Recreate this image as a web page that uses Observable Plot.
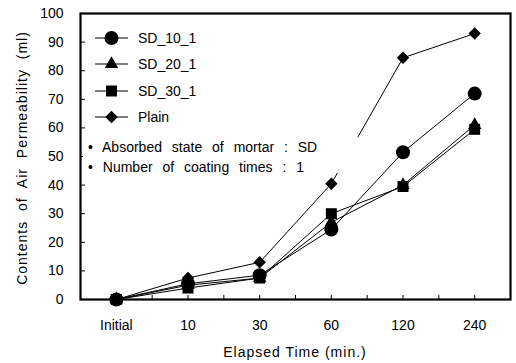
<!DOCTYPE html>
<html><head><meta charset="utf-8">
<script src="https://cdn.jsdelivr.net/npm/d3@7"></script>
<script src="https://cdn.jsdelivr.net/npm/@observablehq/plot@0.6"></script>
<style>
html,body{margin:0;padding:0;background:#fff;}
body{font-family:"Liberation Sans",Arial,sans-serif;color:#000;}
#wrap{position:relative;width:516px;height:363px;overflow:hidden;}
#wrap svg{display:block;}
.ov{position:absolute;white-space:nowrap;font-size:14px;line-height:1;}
#legend{left:95px;top:25px;}
#legend .row{height:26.3px;display:flex;align-items:center;}
#legend .row span{margin-left:10px;}
#notes{left:83px;top:137px;width:282px;height:36px;background:#fff;}
#notes div{height:20px;line-height:20px;padding-left:5px;word-spacing:6px;}
#xlab{left:0;width:516px;top:345px;text-align:center;padding-left:74px;box-sizing:border-box;letter-spacing:1px;}
#ylab{left:22px;top:158px;transform:translate(-50%,-50%) rotate(-90deg);letter-spacing:1px;word-spacing:5px;}
</style></head><body>
<div id="wrap"></div>
<script>
const categories = ["Initial", "10", "30", "60", "120", "240"];
const seriesNames = ["SD_10_1", "SD_20_1", "SD_30_1", "Plain"];
const seriesSymbols = ["circle", "triangle", "square", "diamond2"];
const seriesRadius = [7, 5, 6.2, 5.6];
const sd10 = [0, 5.5, 8.5, 24.5, 51.5, 72];
const sd20 = [0, 5, 7.5, 27, 40, 61];
const sd30 = [0, 4, 7.5, 30, 39.5, 59.5];
const plain = [0, 7.5, 13, 40.5, 84.5, 93];
const yTicks = [0, 10, 20, 30, 40, 50, 60, 70, 80, 90, 100];
const xLabel = "Elapsed Time (min.)";
const yLabel = "Contents of Air Permeability (ml)";
const notes = ["• Absorbed state of mortar : SD", "• Number of coating times : 1"];

const seriesValues = [sd10, sd20, sd30, plain];
const rows = [];
seriesValues.forEach((vals, s) => vals.forEach((v, i) => rows.push({series: seriesNames[s], i, v})));
const idx = categories.map((c, i) => i);
const between = categories.slice(1).map((c, i) => i + 0.5);

const marks = [
  Plot.axisY({ticks: yTicks, tickSize: -5, tickPadding: 22, fontSize: 14, label: null}),
  Plot.axisX({ticks: idx, tickFormat: i => categories[i], tickSize: -4, tickPadding: 25, fontSize: 14, label: null}),
  Plot.axisX({ticks: between, tickFormat: () => "", tickSize: -4, label: null}),
  Plot.line(rows, {x: "i", y: "v", z: "series", stroke: "#000", strokeWidth: 1})
];
seriesNames.forEach((name, s) => {
  marks.push(Plot.dot(rows.filter(d => d.series === name), {
    x: "i", y: "v", symbol: seriesSymbols[s], r: seriesRadius[s], fill: "#000", stroke: "none"
  }));
});
marks.push(Plot.frame({stroke: "#000", strokeWidth: 2.2}));

const chart = Plot.plot({
  width: 516, height: 363,
  marginLeft: 80, marginRight: 6, marginTop: 13, marginBottom: 64,
  style: {fontFamily: '"Liberation Sans", Arial, sans-serif', fontSize: "14px", color: "#000", background: "#fff"},
  x: {domain: [-0.5, categories.length - 0.5], axis: null},
  y: {domain: [0, 100], axis: null},
  marks
});
const wrap = document.getElementById("wrap");
wrap.appendChild(chart);

// legend
const legend = document.createElement("div");
legend.id = "legend"; legend.className = "ov";
const typeMap = {circle: d3.symbolCircle, triangle: d3.symbolTriangle, square: d3.symbolSquare, diamond2: d3.symbolDiamond2};
seriesNames.forEach((name, s) => {
  const row = document.createElement("div");
  row.className = "row";
  const svg = d3.create("svg").attr("width", 33).attr("height", 16);
  svg.append("line").attr("x1", 0).attr("x2", 33).attr("y1", 8).attr("y2", 8).attr("stroke", "#000");
  svg.append("path").attr("transform", "translate(16.5,8)")
    .attr("d", d3.symbol().type(typeMap[seriesSymbols[s]]).size(Math.PI * seriesRadius[s] ** 2)())
    .attr("fill", "#000");
  row.appendChild(svg.node());
  const t = document.createElement("span");
  t.textContent = name;
  row.appendChild(t);
  legend.appendChild(row);
});
wrap.appendChild(legend);

const nb = document.createElement("div");
nb.id = "notes"; nb.className = "ov";
notes.forEach(n => { const d = document.createElement("div"); d.textContent = n; nb.appendChild(d); });
wrap.appendChild(nb);

const xl = document.createElement("div");
xl.id = "xlab"; xl.className = "ov"; xl.textContent = xLabel;
wrap.appendChild(xl);
const yl = document.createElement("div");
yl.id = "ylab"; yl.className = "ov"; yl.textContent = yLabel;
wrap.appendChild(yl);
</script>
</body></html>
